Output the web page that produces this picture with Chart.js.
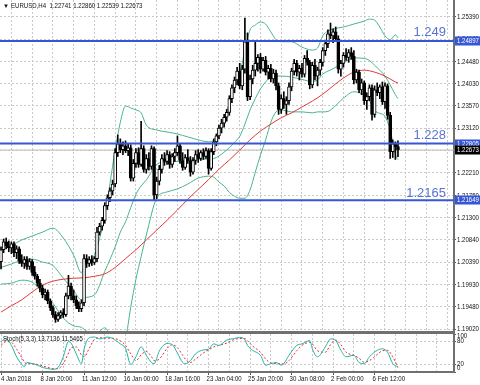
<!DOCTYPE html>
<html>
<head>
<meta charset="utf-8">
<script src="https://cdn.jsdelivr.net/npm/chart.js@4.4.1/dist/chart.umd.min.js"></script>
<style>
  html, body { margin: 0; padding: 0; background: #fff; }
  #wrap { position: relative; width: 480px; height: 385px; overflow: hidden; background: #fff; }
  canvas { position: absolute; left: 0; }
  #main { top: 0; }
  #stoch { top: 331px; }
</style>
</head>
<body>
<div id="wrap">
  <canvas id="main" width="480" height="331"></canvas>
  <canvas id="stoch" width="480" height="54"></canvas>
</div>
<script>
// EURUSD H4 candles, index = bar number (4 Jan 2018 .. 7 Feb 2018)
const barOpen = [
  1.2040,1.2064,1.2080,1.2072,1.2068,1.2076,1.2058,1.2066,1.2042,1.2036,
  1.2044,1.2030,1.2040,1.2018,1.2010,1.1996,1.1986,1.1972,1.1978,1.1960,
  1.1946,1.1932,1.1922,1.1930,1.1936,1.1932,1.1970,1.1990,1.1970,1.1962,
  1.1950,1.1944,1.1956,1.2046,1.2036,1.2044,1.2038,1.2046,1.2100,1.2112,
  1.2124,1.2154,1.2170,1.2184,1.2198,1.2262,1.2280,1.2268,1.2276,1.2266,
  1.2272,1.2210,1.2240,1.2262,1.2238,1.2270,1.2228,1.2250,1.2234,1.2270,
  1.2176,1.2204,1.2228,1.2250,1.2244,1.2258,1.2238,1.2254,1.2262,1.2276,
  1.2246,1.2232,1.2252,1.2246,1.2222,1.2246,1.2258,1.2250,1.2262,1.2254,
  1.2266,1.2230,1.2264,1.2284,1.2296,1.2312,1.2322,1.2334,1.2344,1.2372,
  1.2394,1.2410,1.2428,1.2398,1.2432,1.2488,1.2376,1.2412,1.2430,1.2444,
  1.2456,1.2432,1.2450,1.2426,1.2434,1.2412,1.2424,1.2398,1.2350,1.2372,
  1.2360,1.2368,1.2396,1.2428,1.2444,1.2426,1.2434,1.2422,1.2454,1.2446,
  1.2400,1.2440,1.2418,1.2430,1.2446,1.2470,1.2484,1.2504,1.2500,1.2508,
  1.2494,1.2432,1.2444,1.2460,1.2456,1.2466,1.2458,1.2410,1.2426,1.2390,
  1.2404,1.2368,1.2376,1.2394,1.2340,1.2390,1.2384,1.2396,1.2366,1.2398,
  1.2338,1.2264,1.2280,1.22741
];
const barHigh = [
  1.2070,1.2086,1.2088,1.2082,1.2080,1.2080,1.2072,1.2070,1.2054,1.2050,
  1.2050,1.2046,1.2044,1.2030,1.2014,1.2004,1.1992,1.1984,1.1982,1.1964,
  1.1950,1.1938,1.1936,1.1940,1.1944,1.1976,1.2012,1.1996,1.1982,1.1970,
  1.1958,1.1962,1.2054,1.2054,1.2050,1.2052,1.2050,1.2110,1.2118,1.2130,
  1.2160,1.2176,1.2190,1.2206,1.2270,1.2298,1.2290,1.2284,1.2286,1.2280,
  1.2278,1.2248,1.2270,1.2272,1.2326,1.2276,1.2258,1.2262,1.2276,1.2274,
  1.2212,1.2236,1.2258,1.2262,1.2266,1.2264,1.2260,1.2270,1.2296,1.2280,
  1.2262,1.2258,1.2268,1.2254,1.2252,1.2266,1.2268,1.2266,1.2270,1.2272,
  1.2270,1.2270,1.2290,1.2300,1.2318,1.2330,1.2340,1.2350,1.2378,1.2400,
  1.2416,1.2436,1.2444,1.2440,1.2536,1.2506,1.2420,1.2440,1.2490,1.2462,
  1.2464,1.2456,1.2458,1.2440,1.2442,1.2432,1.2430,1.2404,1.2380,1.2386,
  1.2376,1.2404,1.2434,1.2452,1.2450,1.2440,1.2444,1.2460,1.2470,1.2450,
  1.2446,1.2452,1.2436,1.2452,1.2476,1.2490,1.2512,1.2526,1.2514,1.2518,
  1.2500,1.2450,1.2466,1.2474,1.2472,1.2476,1.2470,1.2432,1.2430,1.2412,
  1.2408,1.2384,1.2400,1.2400,1.2398,1.2404,1.2400,1.2406,1.2404,1.2402,
  1.2344,1.2288,1.2284,1.22860
];
const barLow = [
  1.2025,1.2058,1.2066,1.2060,1.2056,1.2050,1.2046,1.2036,1.2030,1.2026,
  1.2024,1.2024,1.2012,1.2004,1.1990,1.1978,1.1966,1.1962,1.1954,1.1940,
  1.1926,1.1916,1.1918,1.1924,1.1926,1.1928,1.1964,1.1962,1.1956,1.1944,
  1.1938,1.1938,1.1950,1.2028,1.2030,1.2032,1.2034,1.2040,1.2094,1.2104,
  1.2118,1.2146,1.2162,1.2176,1.2192,1.2254,1.2262,1.2258,1.2262,1.2256,
  1.2204,1.2204,1.2232,1.2232,1.2234,1.2222,1.2220,1.2226,1.2228,1.2166,
  1.2168,1.2196,1.2220,1.2236,1.2238,1.2230,1.2232,1.2244,1.2256,1.2240,
  1.2226,1.2228,1.2240,1.2214,1.2218,1.2238,1.2242,1.2246,1.2248,1.2250,
  1.2218,1.2226,1.2258,1.2276,1.2290,1.2302,1.2314,1.2326,1.2338,1.2364,
  1.2384,1.2400,1.2392,1.2390,1.2424,1.2368,1.2370,1.2402,1.2418,1.2428,
  1.2424,1.2428,1.2420,1.2412,1.2406,1.2404,1.2390,1.2340,1.2342,1.2352,
  1.2340,1.2360,1.2388,1.2420,1.2418,1.2410,1.2416,1.2416,1.2440,1.2392,
  1.2394,1.2410,1.2398,1.2420,1.2438,1.2460,1.2476,1.2494,1.2486,1.2490,
  1.2424,1.2418,1.2436,1.2450,1.2446,1.2452,1.2402,1.2404,1.2384,1.2380,
  1.2360,1.2350,1.2368,1.2328,1.2334,1.2378,1.2372,1.2360,1.2352,1.2330,
  1.2250,1.2252,1.2248,1.22539
];
const barClose = [
  1.2064,1.2080,1.2072,1.2068,1.2076,1.2058,1.2066,1.2042,1.2036,1.2044,
  1.2030,1.2040,1.2018,1.2010,1.1996,1.1986,1.1972,1.1978,1.1960,1.1946,
  1.1932,1.1922,1.1930,1.1936,1.1932,1.1970,1.1990,1.1970,1.1962,1.1950,
  1.1944,1.1956,1.2046,1.2036,1.2044,1.2038,1.2046,1.2100,1.2112,1.2124,
  1.2154,1.2170,1.2184,1.2198,1.2262,1.2280,1.2268,1.2276,1.2266,1.2272,
  1.2210,1.2240,1.2262,1.2238,1.2270,1.2228,1.2250,1.2234,1.2270,1.2176,
  1.2204,1.2228,1.2250,1.2244,1.2258,1.2238,1.2254,1.2262,1.2276,1.2246,
  1.2232,1.2252,1.2246,1.2222,1.2246,1.2258,1.2250,1.2262,1.2254,1.2266,
  1.2230,1.2264,1.2284,1.2296,1.2312,1.2322,1.2334,1.2344,1.2372,1.2394,
  1.2410,1.2428,1.2398,1.2432,1.2488,1.2376,1.2412,1.2430,1.2444,1.2456,
  1.2432,1.2450,1.2426,1.2434,1.2412,1.2424,1.2398,1.2350,1.2372,1.2360,
  1.2368,1.2396,1.2428,1.2444,1.2426,1.2434,1.2422,1.2454,1.2446,1.2400,
  1.2440,1.2418,1.2430,1.2446,1.2470,1.2484,1.2504,1.2500,1.2508,1.2494,
  1.2432,1.2444,1.2460,1.2456,1.2466,1.2458,1.2410,1.2426,1.2390,1.2404,
  1.2368,1.2376,1.2394,1.2340,1.2390,1.2384,1.2396,1.2366,1.2398,1.2338,
  1.2264,1.2280,1.2274,1.22673
];

// Bollinger Bands (20,2), read at these bars
const bandBars = [0,4,8,12,16,20,24,28,31,32,36,40,44,46,48,50,52,54,56,60,64,68,72,76,80,82,84,86,88,90,
  92,94,96,98,100,102,104,106,108,112,116,120,122,124,126,128,132,136,140,142,144,146,148,150,152,153];
const bandUpper = [1.2063,1.2073,1.2084,1.2092,1.2100,1.2108,1.2088,1.2053,1.2017,1.2030,1.2053,1.2135,1.2267,1.2324,
  1.2357,1.2353,1.2349,1.2343,1.2318,1.2308,1.2304,1.2300,1.2294,1.2288,1.2284,1.2288,1.2308,1.2333,1.2363,1.2394,
  1.2420,1.2471,1.2512,1.2522,1.2528,1.2524,1.2508,1.2492,1.2488,1.2488,1.2477,1.2471,1.2475,1.2500,1.2510,1.2514,
  1.2518,1.2524,1.2530,1.2534,1.2532,1.2518,1.2500,1.2492,1.2502,1.2496];
const bandMiddle = [1.2028,1.2035,1.2043,1.2045,1.2039,1.2032,1.2006,1.1981,1.1962,1.1966,1.1972,1.2020,1.2070,1.2100,
  1.2121,1.2150,1.2177,1.2194,1.2206,1.2238,1.2243,1.2244,1.2246,1.2249,1.2249,1.2250,1.2255,1.2263,1.2272,1.2283,
  1.2295,1.2320,1.2349,1.2372,1.2392,1.2406,1.2416,1.2418,1.2418,1.2416,1.2411,1.2407,1.2410,1.2422,1.2428,1.2433,
  1.2445,1.2455,1.2454,1.2450,1.2440,1.2430,1.2418,1.2400,1.2380,1.2372];
const bandLower = [1.1994,1.1996,1.2002,1.1998,1.1978,1.1955,1.1925,1.1909,1.1906,1.1902,1.1890,1.1905,1.1873,1.1876,
  1.1885,1.1947,1.2004,1.2050,1.2094,1.2169,1.2182,1.2188,1.2198,1.2210,1.2214,1.2212,1.2202,1.2194,1.2181,1.2173,
  1.2169,1.2169,1.2186,1.2222,1.2257,1.2288,1.2324,1.2345,1.2349,1.2345,1.2345,1.2343,1.2345,1.2345,1.2346,1.2353,
  1.2373,1.2386,1.2379,1.2368,1.2348,1.2342,1.2336,1.2308,1.2258,1.2248];

// red moving average
const maBars = [0,4,8,12,16,20,24,28,32,36,40,44,48,52,56,60,64,68,72,76,80,84,88,92,96,100,
  104,108,112,116,120,124,128,132,136,140,144,148,152,153];
const maValues = [1.1937,1.1950,1.1962,1.1978,1.1992,1.2000,1.2004,1.2006,1.2007,1.2010,1.2015,1.2028,1.2046,
  1.2064,1.2084,1.2104,1.2124,1.2145,1.2167,1.2187,1.2207,1.2228,1.2247,1.2267,1.2288,1.2306,1.2320,1.2333,
  1.2343,1.2355,1.2367,1.2381,1.2398,1.2414,1.2426,1.2430,1.2426,1.2418,1.2406,1.2404];

// Stochastic (5,3,3)
const stochBars = [0,2,4,6,8,9,10,12,14,16,18,20,22,24,26,27,29,31,32,34,36,38,41,43,46,48,50,52,54,56,58,59,61,
  64,66,68,70,71,73,75,78,80,82,84,87,90,92,94,95,97,100,102,104,106,108,109,111,114,116,119,120,122,125,127,
  129,131,133,136,138,140,142,145,147,149,151,153];
const stochMain = [80,88,70,40,20,14,25,22,18,12,9,7,12,40,80,76,48,22,60,90,92,87,92,88,74,62,20,40,66,44,25,22,55,
  75,72,50,25,22,30,48,58,60,74,70,84,88,91,85,70,57,44,18,22,25,18,22,44,70,74,83,61,40,66,87,
  83,57,40,44,25,22,40,57,61,52,22,13.7136];
const stochSignal = [70,80,78,60,38,26,22,22,20,16,12,9,9,22,50,64,66,45,40,62,86,90,89,89,82,70,48,30,45,54,40,30,34,
  62,72,64,44,34,25,34,50,58,66,70,76,86,88,88,82,68,52,34,24,22,22,21,30,56,70,78,74,56,52,72,
  84,72,52,44,36,26,30,46,56,57,40,11.5465];

const priceTicks = [1.25390,1.24935,1.24480,1.24030,1.23570,1.23120,1.22665,1.22210,1.21750,1.21300,
  1.20840,1.20390,1.19930,1.19480,1.19020];
const stochTicks = [0, 20, 80, 100];
const gridBars = [0,8,16,24,32,40,48,56,64,72,80,88,96,104,112,120,128,136,144,152,160,168];
const labelBars = [0,16,32,48,64,80,96,112,128,144];
const timeLabels = ['4 Jan 2018','8 Jan 20:00','11 Jan 12:00','16 Jan 00:00','18 Jan 16:00',
  '23 Jan 04:00','25 Jan 20:00','30 Jan 08:00','2 Feb 00:00','6 Feb 12:00'];

const levelValues = [1.24897, 1.22805, 1.21649];
const levelNames = ['1.249', '1.228', '1.2165'];

const FONT = "'Liberation Sans', Arial, sans-serif";
Chart.defaults.font.family = FONT;
Chart.defaults.font.size = 8;

const X_MIN = -0.39, X_MAX = 174.6;
const Y_MIN = 1.18985, Y_MAX = 1.2573;
const GRID = '#c9c9c9';
const AXIS = '#707070';
const LEVEL_BLUE = '#3656d4';
const SQUEEZE = 0.76;

// small terminal-style text, squeezed horizontally
function smallText(ctx, text, x, y, color, align) {
  ctx.save();
  ctx.font = '8px ' + FONT;
  ctx.fillStyle = color;
  ctx.textAlign = align || 'left';
  ctx.textBaseline = 'middle';
  ctx.translate(x, y);
  ctx.scale(SQUEEZE, 1);
  ctx.fillText(text, 0, 0);
  ctx.restore();
}

const pts = (xs, ys) => xs.map((x, i) => ({ x: x, y: ys[i] }));

const lineSet = (data, color, order, extra) => Object.assign({
  type: 'line', data: data, borderColor: color, borderWidth: 1, pointRadius: 0,
  fill: false, cubicInterpolationMode: 'monotone', order: order
}, extra || {});

const wickData = barOpen.map((o, i) => ({ x: i, y: [barLow[i], barHigh[i]] }));
const bodyData = barOpen.map((o, i) => ({ x: i, y: [Math.min(o, barClose[i]), Math.max(o, barClose[i])] }));
const bodyFill = barOpen.map((o, i) => barClose[i] >= o ? '#ffffff' : '#000000');
const lastClose = barClose[barClose.length - 1];

// axis labels, level captions, price boxes and header on the main window
const mainDecor = {
  id: 'mainDecor',
  afterDraw(chart) {
    const ctx = chart.ctx;
    const ys = chart.scales.y;
    const right = chart.chartArea.right;
    ys.ticks.forEach(t => smallText(ctx, t.value.toFixed(5), right + 3, ys.getPixelForValue(t.value), '#111'));
    ctx.save();
    ctx.font = "13px 'Liberation Sans', Arial, sans-serif";
    ctx.fillStyle = '#5873d8';
    ctx.textAlign = 'right';
    ctx.textBaseline = 'alphabetic';
    levelValues.forEach((v, i) => {
      const py = ys.getPixelForValue(v);
      ctx.fillText(levelNames[i], right - 8, py - (i === 2 ? 3.5 : 5));
    });
    ctx.restore();
    const box = (v, bg) => {
      const py = Math.round(ys.getPixelForValue(v));
      ctx.fillStyle = bg;
      ctx.fillRect(right + 1, py - 4.5, 480 - right, 9);
      smallText(ctx, v.toFixed(5), right + 3, py, '#ffffff');
    };
    levelValues.forEach(v => box(v, LEVEL_BLUE));
    box(lastClose, '#000000');
    ctx.save();
    ctx.fillStyle = '#111';
    ctx.font = '6px ' + FONT;
    ctx.textBaseline = 'middle';
    ctx.fillText('\u25BC', 3, 6);
    ctx.restore();
    smallText(ctx, 'EURUSD,H4  ' + [barOpen, barHigh, barLow, barClose].map(a => a[a.length - 1].toFixed(5)).join(' '),
      11, 6, '#111');
  }
};

new Chart(document.getElementById('main'), {
  type: 'line',
  data: {
    datasets: [
      lineSet([{ x: X_MIN, y: lastClose }, { x: X_MAX, y: lastClose }], '#bdbdbd', 6, { cubicInterpolationMode: 'default' }),
      lineSet(pts(bandBars, bandUpper), '#48b48c', 5),
      lineSet(pts(bandBars, bandMiddle), '#48b48c', 5),
      lineSet(pts(bandBars, bandLower), '#48b48c', 5),
      lineSet(pts(maBars, maValues), '#e0393b', 4),
      { type: 'bar', data: wickData, backgroundColor: '#000000', barThickness: 1, grouped: false, order: 3 },
      { type: 'bar', data: bodyData, backgroundColor: bodyFill, borderColor: '#000000', borderWidth: 1,
        borderSkipped: false, barThickness: 3, minBarLength: 1, grouped: false, order: 2 },
      ...levelValues.map(v => lineSet([{ x: X_MIN, y: v }, { x: X_MAX, y: v }], LEVEL_BLUE, 0,
        { borderWidth: 2, cubicInterpolationMode: 'default' }))
    ]
  },
  options: {
    responsive: false, animation: false, devicePixelRatio: 1, events: [],
    layout: { padding: 0 },
    plugins: { legend: { display: false }, tooltip: { enabled: false } },
    scales: {
      x: {
        type: 'linear', min: X_MIN, max: X_MAX, offset: false,
        afterBuildTicks: s => { s.ticks = gridBars.map(v => ({ value: v })); },
        afterFit: s => { s.height = 0; s.paddingLeft = 0; s.paddingRight = 0; },
        ticks: { display: false },
        grid: { color: GRID, drawTicks: false },
        border: { display: false, dash: [2, 2] }
      },
      y: {
        type: 'linear', position: 'right', min: Y_MIN, max: Y_MAX,
        afterBuildTicks: s => { s.ticks = priceTicks.map(v => ({ value: v })); },
        afterFit: s => { s.width = 26; s.paddingTop = 0; s.paddingBottom = 0; },
        ticks: { display: false },
        grid: { color: GRID, drawTicks: true, tickLength: 2, tickColor: '#555' },
        border: { display: true, color: AXIS, width: 2, dash: [2, 2] }
      }
    }
  },
  plugins: [mainDecor]
});

// separator, title and axis labels on the stochastic window
const stochDecor = {
  id: 'stochDecor',
  beforeDraw(chart) {
    const ctx = chart.ctx;
    ctx.save();
    ctx.fillStyle = '#707070';
    ctx.fillRect(0, 0, chart.chartArea.right + 1, 3);
    ctx.restore();
  },
  afterDraw(chart) {
    const ctx = chart.ctx;
    const xs = chart.scales.x, ys = chart.scales.y;
    const area = chart.chartArea;
    smallText(ctx, 'Stoch(5,3,3) ' + stochMain[stochMain.length - 1].toFixed(4) + ' ' +
      stochSignal[stochSignal.length - 1].toFixed(4), 3, 8, '#111');
    labelBars.forEach((b, k) => {
      smallText(ctx, timeLabels[k], Math.max(1, xs.getPixelForValue(b) - 2), area.bottom + 6.5, '#111');
    });
    stochTicks.forEach(v => {
      const py = Math.min(Math.max(ys.getPixelForValue(v) - 1, area.top + 2), area.bottom - 4);
      smallText(ctx, String(v), area.right + 3, py, '#111');
    });
  }
};

new Chart(document.getElementById('stoch'), {
  type: 'line',
  data: {
    datasets: [
      lineSet(pts(stochBars, stochSignal), '#e8282b', 2, { borderDash: [2, 2] }),
      lineSet(pts(stochBars, stochMain), '#22b2a6', 1)
    ]
  },
  options: {
    responsive: false, animation: false, devicePixelRatio: 1, events: [],
    layout: { padding: { top: 3, left: 0, right: 0, bottom: 0 } },
    plugins: { legend: { display: false }, tooltip: { enabled: false } },
    scales: {
      x: {
        type: 'linear', min: X_MIN, max: X_MAX, offset: false,
        afterBuildTicks: s => { s.ticks = gridBars.map(v => ({ value: v })); },
        afterFit: s => { s.height = 13; s.paddingLeft = 0; s.paddingRight = 0; },
        ticks: { display: false },
        grid: {
          color: GRID, drawTicks: true, tickLength: 3,
          tickColor: c => (c.tick && labelBars.includes(c.tick.value)) ? '#555' : 'rgba(0,0,0,0)'
        },
        border: { display: true, color: AXIS, width: 2, dash: [2, 2] }
      },
      y: {
        type: 'linear', position: 'right', min: 0, max: 100,
        afterBuildTicks: s => { s.ticks = stochTicks.map(v => ({ value: v })); },
        afterFit: s => { s.width = 26; s.paddingTop = 0; s.paddingBottom = 0; },
        ticks: { display: false },
        grid: {
          color: c => (c.tick && (c.tick.value === 20 || c.tick.value === 80)) ? GRID : 'rgba(0,0,0,0)',
          tickLength: 2, tickColor: '#555'
        },
        border: { display: true, color: AXIS, width: 2, dash: [2, 2] }
      }
    }
  },
  plugins: [stochDecor]
});
</script>
</body>
</html>
